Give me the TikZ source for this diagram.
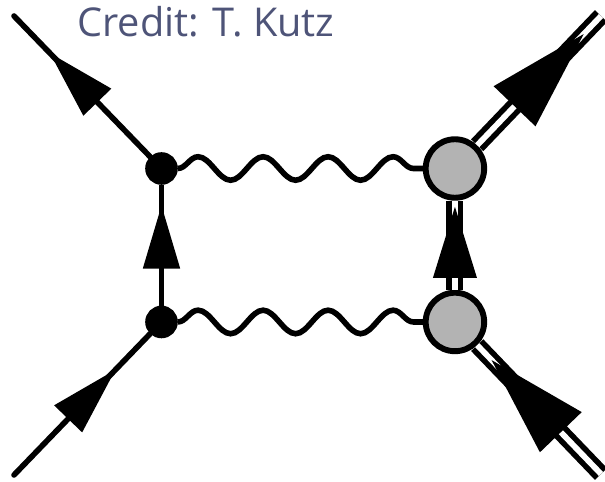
\documentclass[tikz,border=0pt]{standalone}
\usepackage{fontspec}
\setmainfont{Open Sans}
\usetikzlibrary{arrows.meta,decorations.markings,decorations.pathmorphing}
\definecolor{creditblue}{RGB}{78,84,120}
\definecolor{blobgray}{RGB}{179,179,179}

\begin{document}
\begin{tikzpicture}[x=0.02cm, y=-0.02cm, node distance=3.07cm,
                    line width=0.112cm,
                    dot node/.style={circle,draw,fill=black,inner sep=0pt,minimum size=0.54cm},
                    blob node/.style={circle,draw,line width=0.118cm,fill=blobgray,inner sep=0pt,minimum size=1.17cm},
                    tip at/.style n args={3}{decoration={markings,mark=at position #1 with
                      {\arrow[line width=0pt]{Triangle[length=#2,width=#3]}}},postaction={decorate}},
                    fermion/.style={line cap=round},
                    heavy/.style={double,double distance=0.115cm},
                    photon/.style={decorate,decoration={snake,segment length=1.3cm,amplitude=0.235cm}}]

  \useasboundingbox (0,0) rectangle (605,482);

  \node[anchor=base west,inner sep=0pt,text=creditblue,font=\fontsize{22.6}{26}\selectfont] (credit) at (74.5,37) {Credit: T. Kutz};

  \node[dot node] (1) at (161.5,168.5) {};
  \node[dot node] (2) [below of=1] {};
  \node[blob node] (3) [right of=1, node distance=5.87cm] {};
  \node[blob node] (4) [right of=2, node distance=5.87cm] {};

  \coordinate (a) at (14,16);
  \coordinate (b) at (14,475);
  \coordinate (c) at (601,16);
  \coordinate (d) at (601,474);

  \path
    (1) edge[fermion,tip at={2.88cm}{1.36cm}{0.78cm}] (a)
    (b) edge[fermion,tip at={2.92cm}{1.36cm}{0.78cm}] (2)
    (2) edge[tip at={2.0cm}{1.26cm}{0.75cm}] (1)
    (4) edge[heavy,tip at={1.66cm}{1.42cm}{0.88cm}] (3)
    (3) edge[heavy,tip at={3.08cm}{2cm}{1.16cm}] (c)
    (d) edge[heavy,tip at={3.16cm}{2cm}{1.16cm}] (4)
    (1) edge[photon] (3)
    (2) edge[photon] (4);
\end{tikzpicture}
\end{document}
